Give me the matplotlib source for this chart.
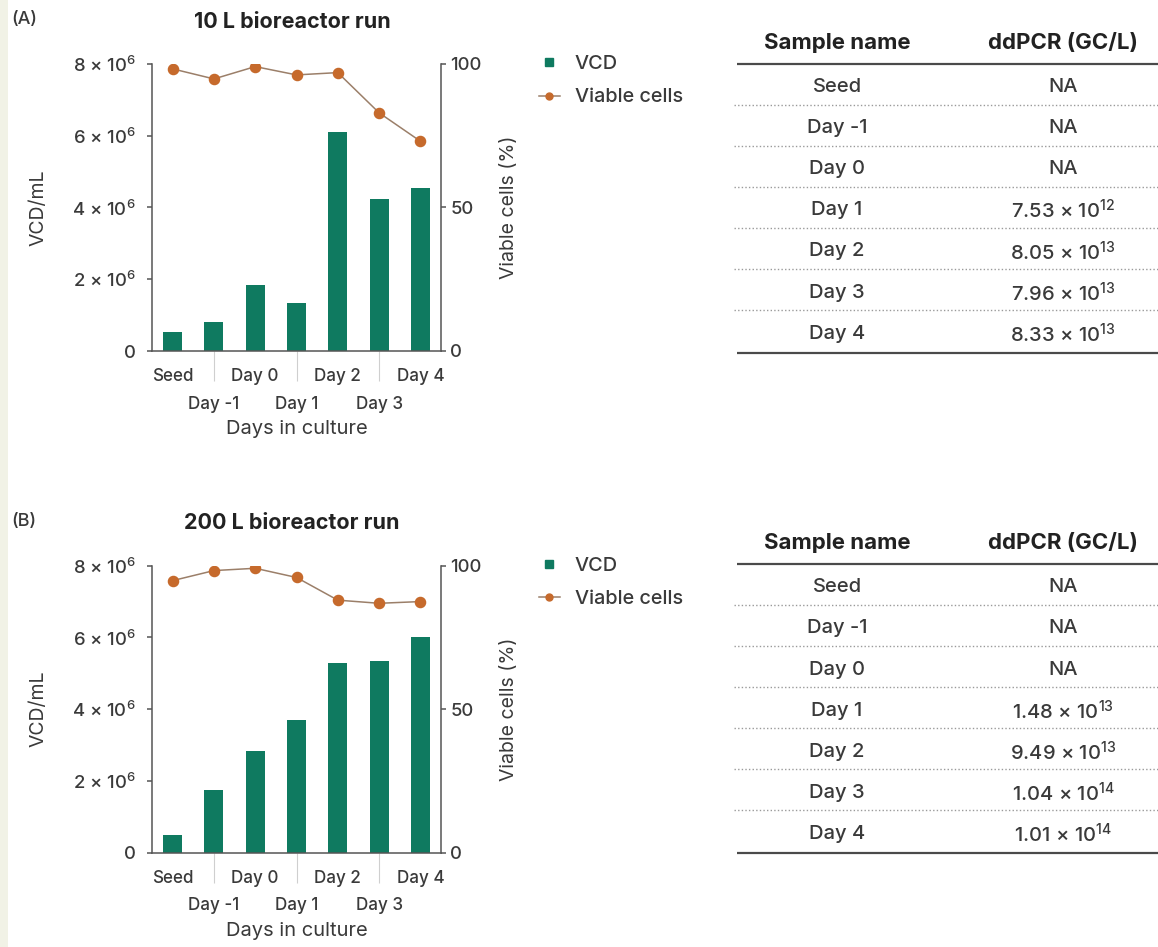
import numpy as np
import matplotlib
matplotlib.use("Agg")
import matplotlib.pyplot as plt
from matplotlib.lines import Line2D
from matplotlib.patches import Rectangle

plt.rcParams["font.family"] = ["Inter", "DejaVu Sans"]
plt.rcParams["font.weight"] = 500
plt.rcParams["mathtext.fontset"] = "custom"
plt.rcParams["mathtext.rm"] = "Inter:medium"
plt.rcParams["mathtext.it"] = "Inter:italic"
plt.rcParams["mathtext.bf"] = "Inter:bold"

# ---- data -----------------------------------------------------------------
days = ["Seed", "Day -1", "Day 0", "Day 1", "Day 2", "Day 3", "Day 4"]

vcd_10L = [0.54e6, 0.82e6, 1.84e6, 1.35e6, 6.11e6, 4.24e6, 4.53e6]
viable_10L = [98.3, 94.8, 99.1, 96.2, 97.0, 83.0, 73.1]

vcd_200L = [0.49e6, 1.75e6, 2.84e6, 3.71e6, 5.30e6, 5.33e6, 6.00e6]
viable_200L = [94.8, 98.3, 99.1, 95.9, 88.0, 86.9, 87.5]

ddpcr_10L = ["NA", "NA", "NA",
             r"7.53 × 10$^{12}$", r"8.05 × 10$^{13}$",
             r"7.96 × 10$^{13}$", r"8.33 × 10$^{13}$"]
ddpcr_200L = ["NA", "NA", "NA",
              r"1.48 × 10$^{13}$", r"9.49 × 10$^{13}$",
              r"1.04 × 10$^{14}$", r"1.01 × 10$^{14}$"]

vcd_ticks = [0, 2e6, 4e6, 6e6, 8e6]
vcd_ticklabels = ["0", r"2 × 10$^{6}$", r"4 × 10$^{6}$", r"6 × 10$^{6}$", r"8 × 10$^{6}$"]
viable_ticks = [0, 50, 100]

# ---- style ------------------------------------------------------------------
GREEN = "#0f7a60"
ORANGE = "#c66a2c"
LINE = "#9b7f69"
SPINE = "#555555"
TEXT = "#3a3a3a"
DARK = "#222222"

W, H = 1158, 947
fig = plt.figure(figsize=(W / 100, H / 100), dpi=100)
fig.patch.set_facecolor("white")
fig.patches.append(Rectangle((0, 0), 8 / W, 1, transform=fig.transFigure,
                             facecolor="#f1f2e6", edgecolor="none", zorder=-5))


def px_rect(left, top, right, bottom):
    return [left / W, 1 - bottom / H, (right - left) / W, (bottom - top) / H]


def draw_panel(top, letter, title, vcd, viable):
    x = np.arange(len(days))
    ax = fig.add_axes(px_rect(152, top, 441, top + 287))
    ax.bar(x, vcd, width=0.46, color=GREEN, zorder=2)
    ax.set_xlim(-0.5, len(days) - 0.5)
    ax.set_ylim(0, 8e6)
    ax.set_yticks(vcd_ticks)
    ax.set_yticklabels(vcd_ticklabels)
    for s in ("top", "right"):
        ax.spines[s].set_visible(False)
    for s in ("left", "bottom"):
        ax.spines[s].set_color(SPINE)
        ax.spines[s].set_linewidth(1.1)
    ax.tick_params(axis="y", length=3.6, width=1.1, color=SPINE, pad=8,
                   labelsize=13.3, labelcolor=TEXT)

    # staggered category labels: even ones on the first row, odd ones below
    ax.set_xticks(x[::2])
    ax.set_xticklabels(days[::2])
    ax.set_xticks(x[1::2], minor=True)
    ax.set_xticklabels(days[1::2], minor=True)
    ax.tick_params(axis="x", which="major", length=0, pad=12.5,
                   labelsize=12.3, labelcolor=TEXT)
    ax.tick_params(axis="x", which="minor", length=21.6, width=0.8,
                   color="#cfcfcf", pad=10.5, labelsize=12.3, labelcolor=TEXT)

    ax.set_xlabel("Days in culture", fontsize=14.5, color=TEXT)
    ax.xaxis.label.set_va("center")
    ax.xaxis.set_label_coords(0.5, -(429 - 351) / 287)
    ax.set_ylabel("VCD/mL", fontsize=14, color=TEXT)
    ax.yaxis.label.set_va("center")
    ax.yaxis.set_label_coords(-0.392, 0.5)

    ax2 = ax.twinx()
    ax2.plot(x, viable, color=LINE, lw=1.1, marker="o", ms=7.3,
             mfc=ORANGE, mec=ORANGE, zorder=3)
    ax2.set_ylim(0, 100)
    ax2.set_yticks(viable_ticks)
    for s in ("top", "left", "bottom"):
        ax2.spines[s].set_visible(False)
    ax2.spines["right"].set_color(SPINE)
    ax2.spines["right"].set_linewidth(1.1)
    ax2.tick_params(axis="y", length=3.6, width=1.1, color=SPINE, pad=3,
                    labelsize=13.3, labelcolor=TEXT)
    ax2.set_ylabel("Viable cells (%)", fontsize=14, color=TEXT)
    ax2.yaxis.label.set_va("center")
    ax2.yaxis.set_label_coords((509 - 152) / 289, 0.5)

    ax.set_title(title, fontsize=15.5, fontweight="bold", color=DARK,
                 x=(292 - 152) / 289, y=1 + 42.5 / 287, va="center", pad=0)
    fig.text(11 / W, 1 - (top - 44) / H, letter, fontsize=13, color=TEXT,
             ha="left", va="center")

    handles = [
        Line2D([], [], marker="s", ls="none", color=GREEN, ms=5.5),
        Line2D([], [], color=LINE, lw=1.1, marker="o", ms=5,
               mfc=ORANGE, mec=ORANGE),
    ]
    fig.legend(handles, ["VCD", "Viable cells"], loc="upper left",
               bbox_to_anchor=(539 / W, 1 - (top - 9) / H),
               frameon=False, fontsize=14.3, handlelength=1.05,
               handletextpad=0.76, labelspacing=0.78, borderpad=0,
               borderaxespad=0, labelcolor=TEXT)


def draw_table(tab, y0, values):
    col1, col2 = 837, 1063
    tab.text(col1, y0, "Sample name", ha="center", va="center",
             fontsize=16, fontweight="bold", color=DARK)
    tab.text(col2, y0, "ddPCR (GC/L)", ha="center", va="center",
             fontsize=16, fontweight="bold", color=DARK)
    tab.plot([737, W], [y0 + 20.5, y0 + 20.5], color="#4a4a4a", lw=1.6,
             solid_capstyle="butt")
    step = 41.1
    for i, (name, val) in enumerate(zip(days, values)):
        yr = y0 + 44 + i * step
        tab.text(col1, yr, name, ha="center", va="center", fontsize=14.5,
                 color=TEXT)
        tab.text(col2, yr, val, ha="center", va="center", fontsize=14.5,
                 color=TEXT)
        if i < len(days) - 1:
            tab.plot([734, W], [yr + 17.5, yr + 17.5], color="#9a9a9a",
                     lw=1.0, ls=(0, (1, 1.6)))
    yb = y0 + 43 + (len(days) - 1) * step + 20
    tab.plot([737, W], [yb, yb], color="#4a4a4a", lw=1.6, solid_capstyle="butt")


draw_panel(64, "(A)", "10 L bioreactor run", vcd_10L, viable_10L)
draw_panel(565.7, "(B)", "200 L bioreactor run", vcd_200L, viable_200L)

tab = fig.add_axes([0, 0, 1, 1])
tab.set_xlim(0, W)
tab.set_ylim(H, 0)
tab.axis("off")
tab.patch.set_visible(False)
draw_table(tab, 43, ddpcr_10L)
draw_table(tab, 543.3, ddpcr_200L)

fig.savefig("out.png", dpi=100)
